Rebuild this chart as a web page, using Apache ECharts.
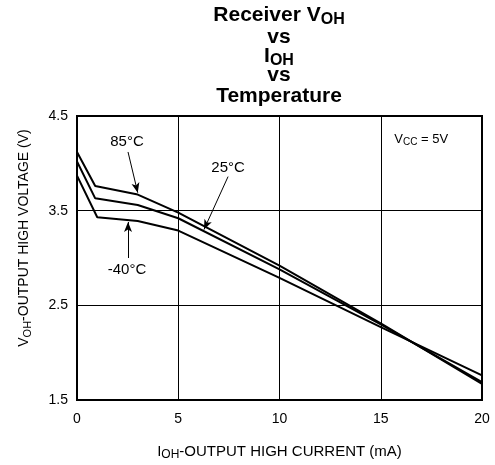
<!DOCTYPE html>
<html><head><meta charset="utf-8">
<script src="https://cdn.jsdelivr.net/npm/echarts@6/dist/echarts.min.js"></script>
<style>html,body{margin:0;padding:0;background:#fff}#c{width:495px;height:465px}</style>
</head><body><div id="c"></div>
<script>
// Output high current (mA) and output high voltage (V) for each temperature
const iOH_85 = [0, 0.9, 3.0, 5, 10, 15, 20];
const vOH_85 = [4.12, 3.76, 3.67, 3.48, 2.92, 2.31, 1.67];
const iOH_25 = [0, 0.9, 3.0, 5, 10, 15, 20];
const vOH_25 = [4.02, 3.63, 3.56, 3.42, 2.88, 2.30, 1.69];
const iOH_m40 = [0, 1.0, 3.0, 5, 10, 15, 20];
const vOH_m40 = [3.87, 3.43, 3.39, 3.29, 2.79, 2.27, 1.76];
const xTickLabels = [0, 5, 10, 15, 20];
const yTickLabels = [1.5, 2.5, 3.5, 4.5];
const seriesNames = ['85°C', '25°C', '-40°C'];

const FONT = "'Liberation Sans', Arial, sans-serif";
const zip = (xs, ys) => xs.map((x, i) => [x, ys[i]]);

const lineSeries = (name, xs, ys) => ({
  name, type: 'line', data: zip(xs, ys), showSymbol: false, symbol: 'none',
  lineStyle: { color: '#000', width: 2 }, silent: true, z: 3
});

const arrowStyle = { color: '#000', width: 1, type: 'solid' };
const annotations = {
  type: 'line', data: [], silent: true, z: 4,
  markLine: {
    silent: true, symbol: ['none', 'arrow'], symbolSize: [6, 10],
    lineStyle: arrowStyle, label: { show: false },
    data: [
      [{ coord: [2.52, 4.12] }, { coord: [3.0, 3.69] }],
      [{ coord: [7.46, 3.86] }, { coord: [6.27, 3.30] }],
      [{ coord: [2.52, 3.00] }, { coord: [2.52, 3.38] }]
    ]
  },
  markPoint: {
    silent: true, symbol: 'circle', symbolSize: 0,
    label: { show: true, position: 'inside', color: '#000', fontFamily: FONT, fontSize: 15, formatter: '{b}',
      rich: {
        v: { fontSize: 13, fontFamily: FONT, color: '#000', lineHeight: 16 },
        s: { fontSize: 10, fontFamily: FONT, color: '#000', lineHeight: 10, verticalAlign: 'bottom' }
      }
    },
    data: [
      { name: seriesNames[0], coord: [2.47, 4.225] },
      { name: seriesNames[1], coord: [7.46, 3.95] },
      { name: seriesNames[2], coord: [2.47, 2.88] },
      { name: 'vcc', coord: [17.0, 4.25], label: { formatter: '{v|V}{s|CC}{v| = 5V}' } }
    ]
  }
};

const chart = echarts.init(document.getElementById('c'), null, { renderer: 'canvas' });
const titleRich = {
  m: { fontSize: 21, fontWeight: 'bold', fontFamily: FONT, color: '#000', lineHeight: 24 },
  s: { fontSize: 16, fontWeight: 'bold', fontFamily: FONT, color: '#000', lineHeight: 12, verticalAlign: 'bottom' }
};
const axRich = (fs) => ({
  m: { fontSize: fs, fontFamily: FONT, color: '#000', lineHeight: 17 },
  s: { fontSize: fs - 3, fontFamily: FONT, color: '#000', lineHeight: 9, verticalAlign: 'bottom' }
});
const txt = (x, y, text, rich, rotation) => ({
  type: 'text', x, y, rotation: rotation || 0, silent: true,
  style: { text, rich, align: 'center', verticalAlign: 'middle', fill: '#000' }
});

chart.setOption({
  backgroundColor: '#fff',
  animation: false,
  grid: { left: 77, top: 116, width: 405, height: 284, show: true, borderColor: '#000', borderWidth: 2, backgroundColor: 'transparent', containLabel: false },
  xAxis: {
    type: 'value', min: 0, max: 20, interval: 5,
    axisLine: { show: false }, axisTick: { show: false },
    splitLine: { show: true, lineStyle: { color: '#000', width: 1 } },
    axisLabel: { color: '#000', fontFamily: FONT, fontSize: 14, margin: 12,
      formatter: v => xTickLabels.includes(v) ? String(v) : '' }
  },
  yAxis: {
    type: 'value', min: 1.5, max: 4.5, interval: 1,
    axisLine: { show: false }, axisTick: { show: false },
    splitLine: { show: true, lineStyle: { color: '#000', width: 1 } },
    axisLabel: { color: '#000', fontFamily: FONT, fontSize: 14, margin: 9,
      formatter: v => { const t = yTickLabels.find(y => Math.abs(y - v) < 1e-6); return t !== undefined ? t.toFixed(1) : ''; } }
  },
  graphic: [
    txt(279, 15.5, '{m|Receiver V}{s|OH}', titleRich),
    txt(279, 37.5, '{m|vs}', titleRich),
    txt(279, 56.5, '{m|I}{s|OH}', titleRich),
    txt(279, 75.5, '{m|vs}', titleRich),
    txt(279, 96, '{m|Temperature}', titleRich),
    txt(279.5, 452, '{m|I}{s|OH}{m|-OUTPUT HIGH CURRENT (mA)}', axRich(15)),
    txt(24.5, 238, '{m|V}{s|OH}{m|-OUTPUT HIGH VOLTAGE (V)}', axRich(14), Math.PI / 2)
  ],
  series: [
    lineSeries(seriesNames[0], iOH_85, vOH_85),
    lineSeries(seriesNames[1], iOH_25, vOH_25),
    lineSeries(seriesNames[2], iOH_m40, vOH_m40),
    annotations
  ]
});
</script>
</body></html>
